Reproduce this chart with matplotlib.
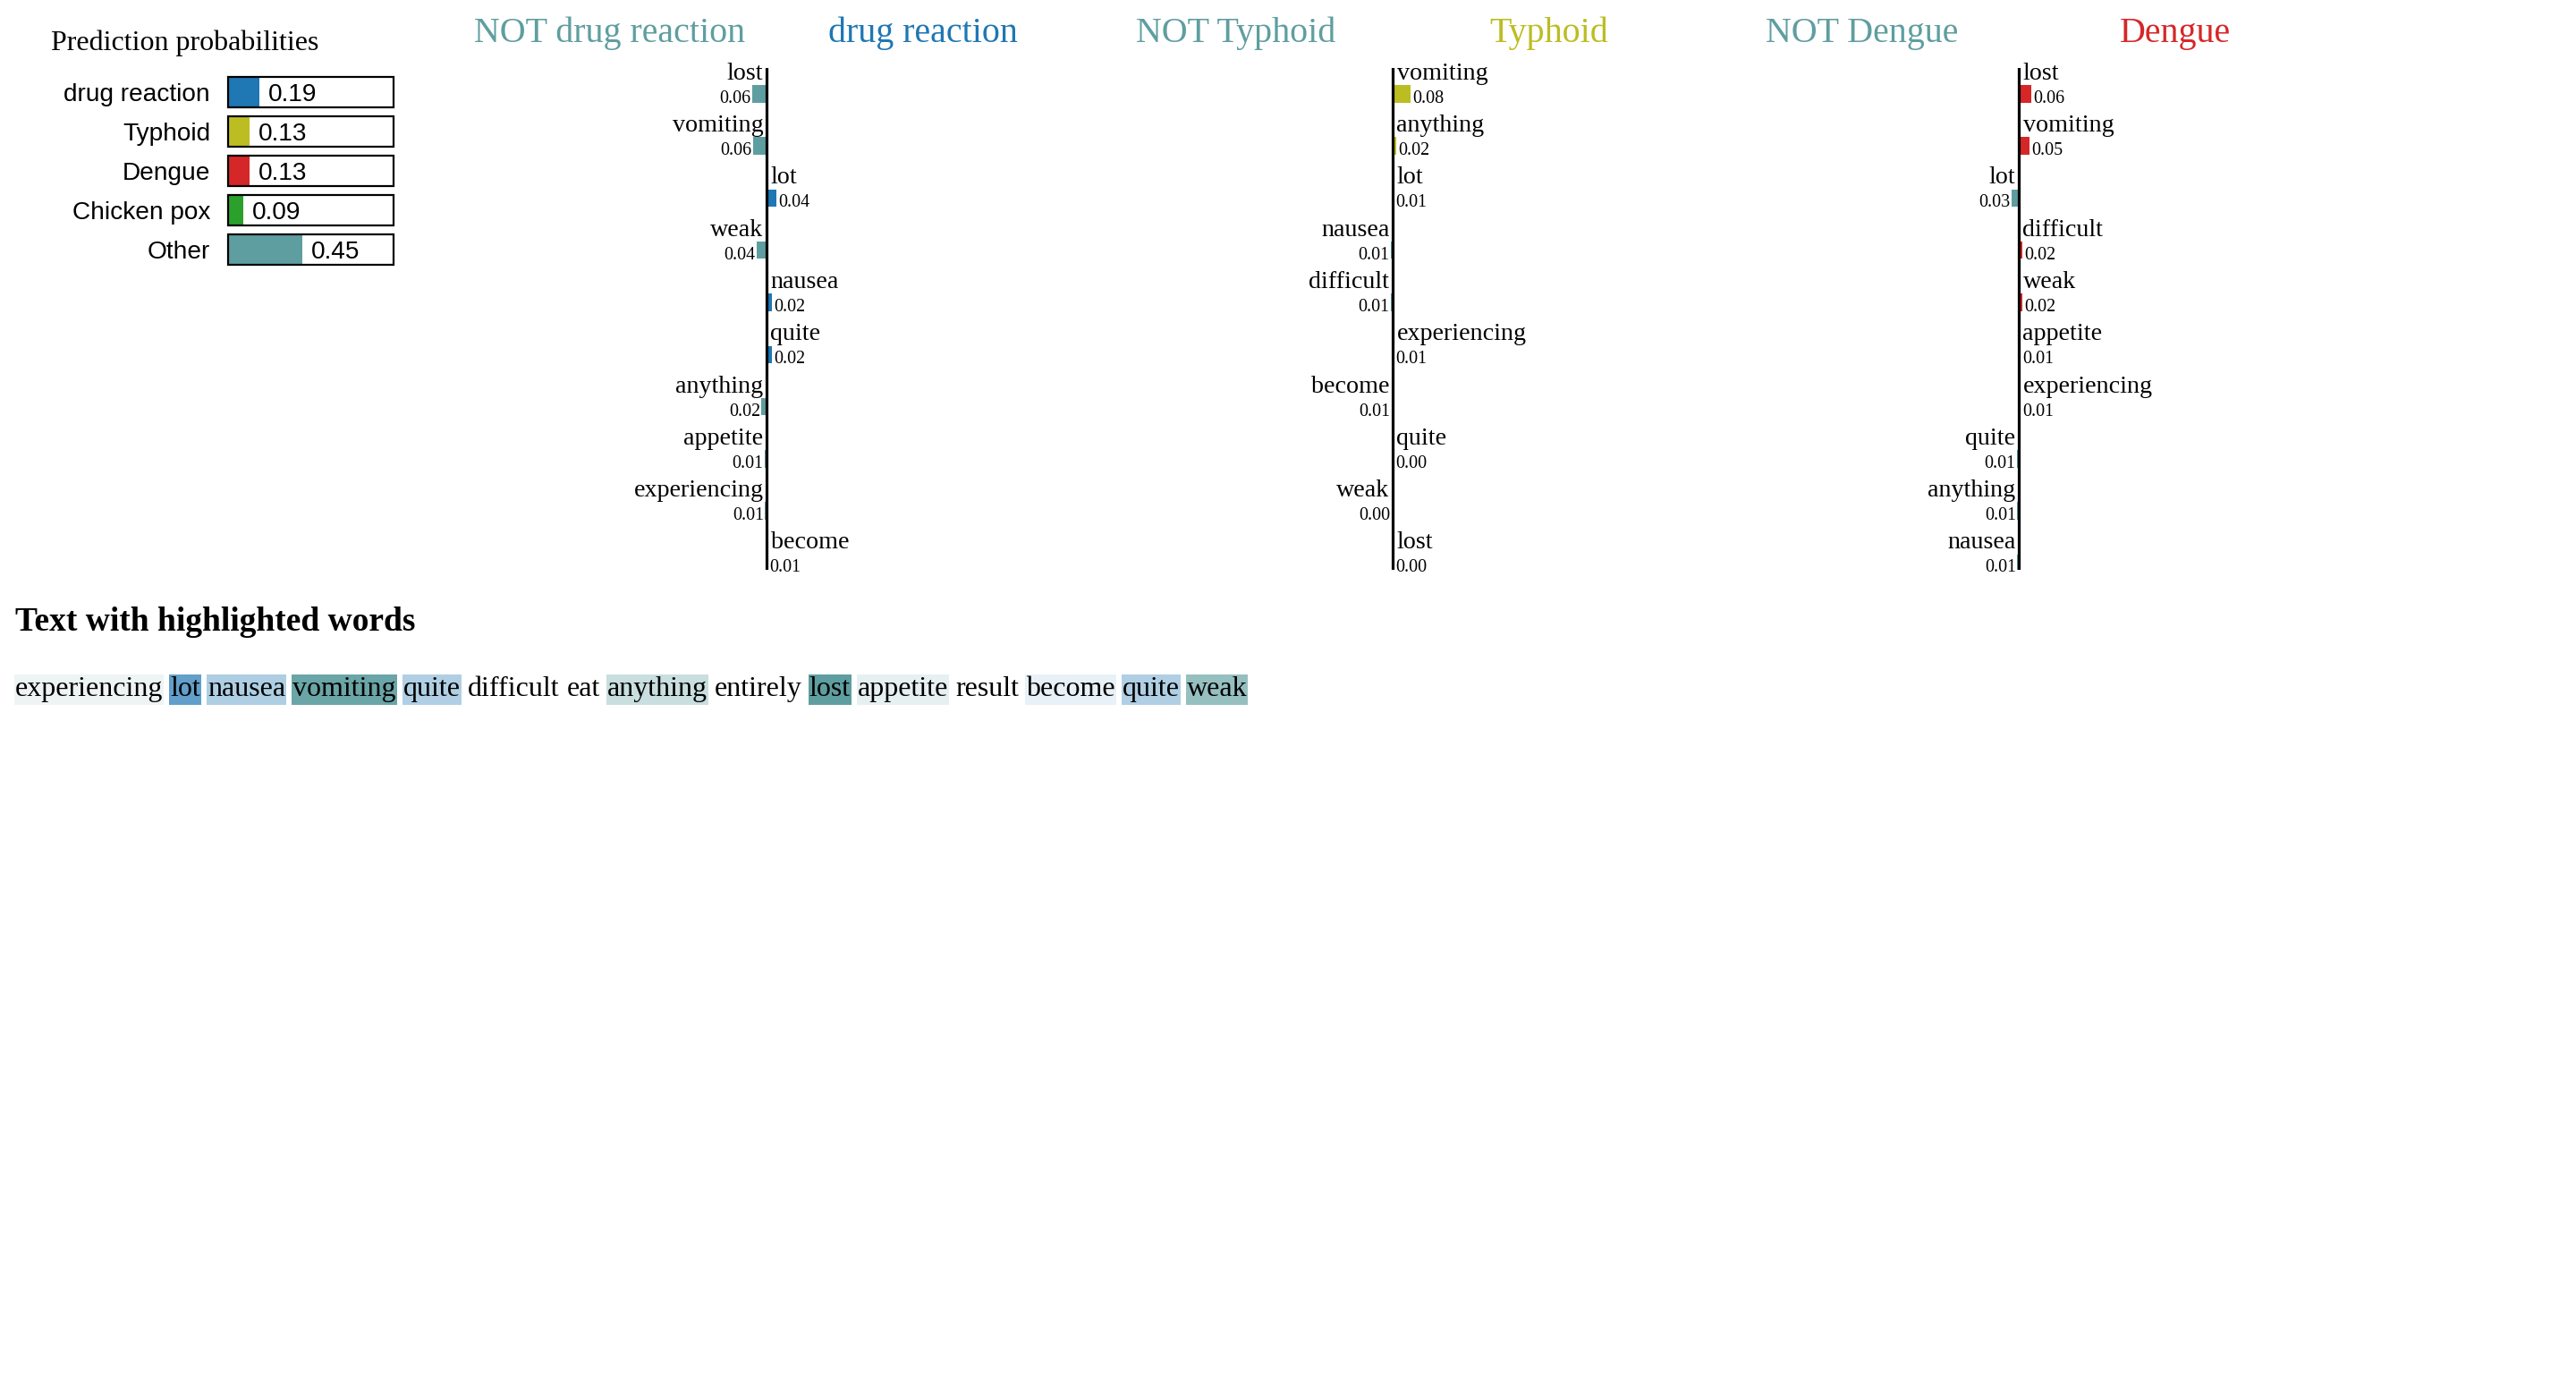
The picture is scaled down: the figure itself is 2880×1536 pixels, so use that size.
import matplotlib
matplotlib.use('Agg')
import matplotlib.pyplot as plt
from matplotlib.patches import Rectangle

W, H, DPI = 2880, 1536, 200
SERIF = 'Liberation Serif'
SANS = 'Liberation Sans'

# prediction probabilities
classes = ['drug reaction', 'Typhoid', 'Dengue', 'Chicken pox', 'Other']
probs = [0.19, 0.13, 0.13, 0.09, 0.45]
class_colors = ['#1f77b4', '#bcbd22', '#d62728', '#2ca02c', '#5f9ea0']
not_color = '#5f9ea0'

# per-class explanations (word, weight)
drug_words = ['lost', 'vomiting', 'lot', 'weak', 'nausea', 'quite',
              'anything', 'appetite', 'experiencing', 'become']
drug_weights = [-0.064, -0.0595, 0.0448, -0.0418, 0.0232, 0.0226,
                -0.0216, -0.0093, -0.0068, 0.0066]

typhoid_words = ['vomiting', 'anything', 'lot', 'nausea', 'difficult',
                 'experiencing', 'become', 'quite', 'weak', 'lost']
typhoid_weights = [0.078, 0.016, 0.0062, -0.008, -0.007,
                   0.006, -0.0055, 0.004, -0.003, 0.003]

dengue_words = ['lost', 'vomiting', 'lot', 'difficult', 'weak',
                'appetite', 'experiencing', 'quite', 'anything', 'nausea']
dengue_weights = [0.056, 0.049, -0.03, 0.016, 0.016,
                  0.009, 0.008, -0.008, -0.006, -0.006]

text_words = ['experiencing', 'lot', 'nausea', 'vomiting', 'quite', 'difficult',
              'eat', 'anything', 'entirely', 'lost', 'appetite', 'result',
              'become', 'quite', 'weak']


def pt(v):
    # pixels -> points
    return v * 72 / DPI


def box(x0, y0, x1, y1):
    # pixel box (top-left origin) -> figure fraction rect
    return [x0 / W, 1 - y1 / H, (x1 - x0) / W, (y1 - y0) / H]


fig = plt.figure(figsize=(W / DPI, H / DPI), dpi=DPI)

# ---- prediction probabilities ----
fig.text(57 / W, 1 - 56 / H, 'Prediction probabilities', family=SERIF,
         fontsize=pt(32), ha='left', va='baseline')

axp = fig.add_axes(box(255, 86, 440, 296))
n = len(classes)
half = 17 / 44
axp.set_xlim(0, 1)
axp.set_ylim(n - 1 + half, -half)
axp.axis('off')
rows = list(range(n))
axp.barh(rows, probs, height=34 / 44, color=class_colors, left=0)
axp.barh(rows, [1] * n, height=34 / 44, fill=False, edgecolor='black',
         linewidth=pt(2.2), clip_on=False)
for i, (c, p) in enumerate(zip(classes, probs)):
    axp.annotate(c, xy=(0, i), xytext=(-pt(20), -pt(10)), textcoords='offset points',
                 ha='right', va='baseline', family=SANS, fontsize=pt(28))
    axp.annotate(f'{p:.2f}', xy=(p, i), xytext=(pt(10), -pt(10)),
                 textcoords='offset points', ha='left', va='baseline',
                 family=SANS, fontsize=pt(28))

# ---- explanation panels ----
SCALE = 255  # px per unit weight
panels = [
    ('drug reaction', drug_words, drug_weights, class_colors[0], 857),
    ('Typhoid', typhoid_words, typhoid_weights, class_colors[1], 1557),
    ('Dengue', dengue_words, dengue_weights, class_colors[2], 2257),
]
SPACING = 58.3
BAR_H = 19.5
TOP, BOT = 76, 637
row0 = 95 + BAR_H / 2
for name, words, weights, color, cx in panels:
    ax = fig.add_axes(box(cx - 350, TOP, cx + 350, BOT))
    ax.set_xlim(-350 / SCALE, 350 / SCALE)
    nr = len(words)
    ax.set_ylim(nr - 1 + (BOT - (row0 + (nr - 1) * SPACING)) / SPACING,
                -(row0 - TOP) / SPACING)
    ax.axis('off')
    y = list(range(nr))
    cols = [color if w > 0 else not_color for w in weights]
    ax.barh(y, weights, height=BAR_H / SPACING, color=cols)
    ax.axvline(0, color='black', linewidth=pt(3.2))
    for i, (word, w) in enumerate(zip(words, weights)):
        if w > 0:
            ax.annotate(word, xy=(0, i), xytext=(pt(4.5), pt(16)),
                        textcoords='offset points', ha='left', va='baseline',
                        family=SERIF, fontsize=pt(28))
            ax.annotate(f'{abs(w):.2f}', xy=(w, i), xytext=(pt(2), -pt(10)),
                        textcoords='offset points', ha='left', va='baseline',
                        family=SERIF, fontsize=pt(20))
        else:
            ax.annotate(word, xy=(0, i), xytext=(-pt(3.5), pt(16)),
                        textcoords='offset points', ha='right', va='baseline',
                        family=SERIF, fontsize=pt(28))
            ax.annotate(f'{abs(w):.2f}', xy=(w, i), xytext=(-pt(1.5), -pt(10)),
                        textcoords='offset points', ha='right', va='baseline',
                        family=SERIF, fontsize=pt(20))
    fig.text((cx - 175) / W, 1 - 47 / H, 'NOT ' + name, family=SERIF,
             fontsize=pt(40), color=not_color, ha='center', va='baseline')
    fig.text((cx + 175) / W, 1 - 47 / H, name, family=SERIF,
             fontsize=pt(40), color=color, ha='center', va='baseline')

# ---- text with highlighted words ----
fig.text(17 / W, 1 - 705 / H, 'Text with highlighted words', family=SERIF,
         fontsize=pt(37.5), weight='bold', ha='left', va='baseline')

axt = fig.add_axes([0, 0, 1, 1])
axt.set_xlim(0, W)
axt.set_ylim(H, 0)
axt.axis('off')

wmap = dict(zip(drug_words, drug_weights))
wmax = max(abs(w) for w in drug_weights)
fig.canvas.draw()
renderer = fig.canvas.get_renderer()
x = 17
base = 778
for word in text_words:
    t = axt.text(x, base, word, family=SERIF, fontsize=pt(32),
                 ha='left', va='baseline', zorder=3)
    bb = t.get_window_extent(renderer=renderer)
    if word in wmap:
        w = wmap[word]
        c = class_colors[0] if w > 0 else not_color
        axt.add_patch(Rectangle((x - 1, base - 24), bb.width + 2, 34,
                                facecolor=c, alpha=abs(w) / wmax,
                                edgecolor='none', zorder=1))
    x += bb.width + 8

fig.savefig('out.png', dpi=DPI, facecolor='white')
